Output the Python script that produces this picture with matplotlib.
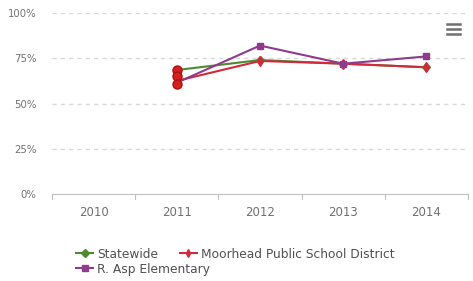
import matplotlib
matplotlib.use("Agg")
import matplotlib.pyplot as plt
from matplotlib.lines import Line2D

years = ["2010", "2011", "2012", "2013", "2014"]
statewide = [None, 68.5, 74, 72, 70]
moorhead = [None, 62.5, 73.5, 72, 70]
rasp = [None, 61.5, 82, 72, 76]
highlight_2011 = [68.5, 65, 61]
yticks = [0, 25, 50, 75, 100]
ytick_labels = ["0%", "25%", "50%", "75%", "100%"]

W, H = 473, 281
fig = plt.figure(figsize=(W/100, H/100), dpi=100)
ax = fig.add_axes([52/W, (H-194)/H, (468-52)/W, (194-13)/H])

x = list(range(len(years)))

def xy(vals):
    xs = [i for i, v in enumerate(vals) if v is not None]
    ys = [v for v in vals if v is not None]
    return xs, ys

series = [
    ("Statewide", statewide, "#4e8a2e", "D", 4),
    ("Moorhead Public School District", moorhead, "#d22a3c", "d", 5),
    ("R. Asp Elementary", rasp, "#8e3b8e", "s", 5),
]
for name, vals, col, mk, ms in series:
    xs, ys = xy(vals)
    ax.plot(xs, ys, color=col, lw=1.5, zorder=3)
    ax.plot(xs[1:], ys[1:], ls="none", marker=mk, ms=ms, color=col, zorder=4)
ax.plot([1] * len(highlight_2011), highlight_2011, ls="none", marker="o", ms=6.5,
        mfc="#d42020", mec="#b01010", mew=1.0, zorder=5)

ax.set_xlim(-0.5, 4.5)
ax.set_ylim(0, 100)
ax.set_yticks(yticks)
ax.set_yticklabels(ytick_labels, fontsize=7.3, color="#707070")
ax.set_xticks(x)
ax.set_xticklabels(years, fontsize=8.5, color="#707070")
ax.tick_params(axis="y", length=0, pad=11)
ax.tick_params(axis="x", length=0, pad=9)
for b in [-0.5, 0.5, 1.5, 2.5, 3.5, 4.5]:
    ax.plot([b, b], [0, -3], color="#c0c0c0", lw=0.8, clip_on=False)
for yv in yticks[1:]:
    ax.axhline(yv, color="#d8d8d8", lw=1, ls=(0, (3, 3)), zorder=1)
for s in ["top", "right", "left"]:
    ax.spines[s].set_visible(False)
ax.spines["bottom"].set_color("#c0c0c0")

# menu icon
for yy in [247, 252, 257]:
    fig.add_artist(Line2D([447/W, 460/W], [yy/H, yy/H], color="#707070", lw=1.8))

handles = [Line2D([0], [0], color=c, lw=1.5, marker=m, ms=4) for _, _, c, m, _ in series]
labels = [s[0] for s in series]
fig.legend(handles[:2], labels[:2], loc="center left", bbox_to_anchor=(70/W, 1-254/H),
           ncol=2, frameon=False, fontsize=8.8, handlelength=1.4, handletextpad=0.3,
           columnspacing=1.8, labelcolor="#505050", borderpad=0)
fig.legend(handles[2:], labels[2:], loc="center left", bbox_to_anchor=(70/W, 1-269/H),
           frameon=False, fontsize=8.8, handlelength=1.4, handletextpad=0.3,
           labelcolor="#505050", borderpad=0)

fig.savefig("out.png", dpi=100)
